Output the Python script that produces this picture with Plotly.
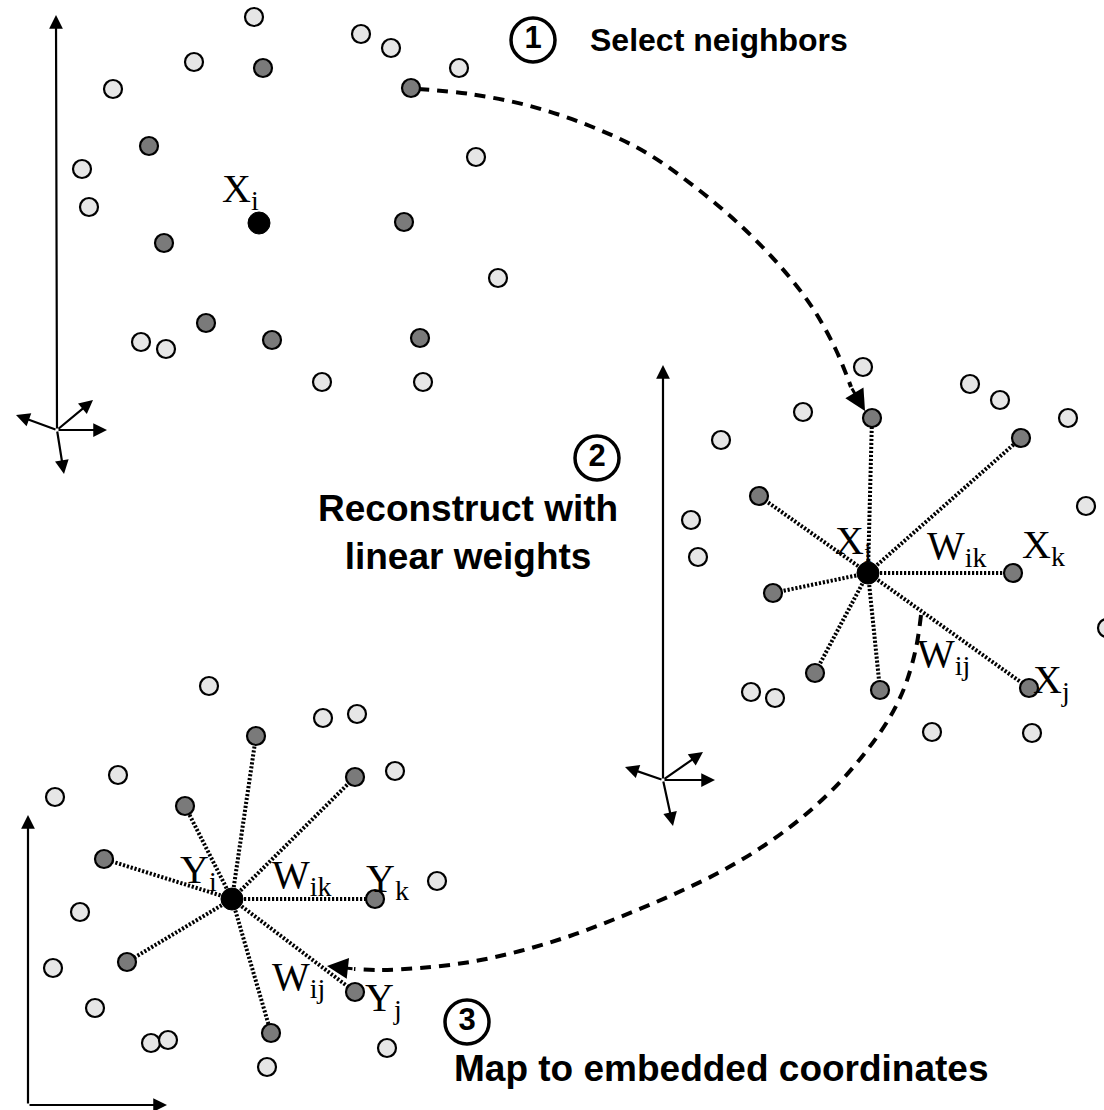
import plotly.graph_objects as go

# ---------------- data (pixel-space coordinates of the diagram) ----------------
# Panel 1: input space
p1_light_x = [254, 361, 391, 459, 194, 113, 82, 89, 476, 498, 141, 166, 322, 423]
p1_light_y = [17, 34, 48, 68, 62, 89, 169, 207, 157, 278, 342, 349, 382, 382]
p1_dark_x = [263, 411, 149, 164, 404, 206, 272, 420]
p1_dark_y = [68, 88, 146, 243, 222, 323, 340, 338]
p1_center = [259, 223]

# Panel 2: reconstruction
p2_light_x = [863, 970, 1000, 1068, 803, 721, 1086, 691, 698, 1107, 751, 775, 932, 1032]
p2_light_y = [367, 384, 400, 418, 412, 440, 506, 520, 557, 628, 692, 698, 732, 733]
p2_dark_x = [872, 1021, 759, 773, 1013, 815, 880, 1029]
p2_dark_y = [418, 438, 496, 593, 573, 673, 690, 688]
p2_center = [868, 573]

# Panel 3: embedding
p3_light_x = [209, 323, 357, 118, 55, 395, 437, 80, 53, 95, 151, 168, 267, 387]
p3_light_y = [686, 718, 714, 775, 797, 771, 881, 912, 968, 1008, 1043, 1040, 1067, 1048]
p3_dark_x = [256, 355, 185, 104, 375, 127, 355, 271]
p3_dark_y = [736, 777, 806, 859, 899, 962, 992, 1033]
p3_center = [232, 899]

# coordinate-frame arrows (origin, tips)
ax1_origin = [57, 430]
ax1_tips = [[56, 15], [16, 415], [93, 400], [107, 430], [64, 474]]
ax2_origin = [663, 780]
ax2_tips = [[663, 365], [625, 767], [703, 752], [715, 780], [673, 826]]
ax3_origin = [28, 1105]
ax3_tips = [[28, 815], [167, 1105]]

# dashed transition curves (waypoints) and arrow tips
curve1_x = [418, 470, 530, 590, 645, 695, 740, 780, 812, 836, 851]
curve1_y = [89, 94, 106, 126, 152, 187, 225, 266, 307, 350, 387]
curve1_tip = [865, 411]
curve2_x = [921, 916, 905, 890, 868, 840, 805, 765, 720, 670, 620, 570, 520, 470, 420, 380, 354]
curve2_y = [615, 648, 686, 717, 749, 782, 815, 845, 872, 896, 917, 936, 951, 962, 968, 970, 969]
curve2_tip = [327, 966]

# math labels: (text, left x, cap-top y)
math_labels = [
    ("X<sub>i</sub>", 222, 176),
    ("X<sub>i</sub>", 835, 528),
    ("W<sub>ik</sub>", 927, 533),
    ("X<sub>k</sub>", 1022, 532),
    ("W<sub>ij</sub>", 917, 641),
    ("X<sub>j</sub>", 1033, 667),
    ("Y<sub>i</sub>", 180, 857),
    ("W<sub>ik</sub>", 272, 862),
    ("Y<sub>k</sub>", 366, 866),
    ("W<sub>ij</sub>", 272, 964),
    ("Y<sub>j</sub>", 365, 985),
]

# step captions
step_numbers = ["1", "2", "3"]
step_num_x = [533, 597, 467]
step_num_y = [40, 458, 1022]
step_texts = ["Select neighbors", "Reconstruct with<br>linear weights", "Map to embedded coordinates"]
step_text_x = [588, 468, 452]
step_text_y = [40, 532, 1068]
step_text_anchor = ["left", "center", "left"]
step_text_size = [32, 37, 37]

LIGHT = "#e6e6e6"
DARK = "#7a7a7a"

fig = go.Figure()

# star (weight) lines
for cx, cy, dx, dy in [(p2_center[0], p2_center[1], p2_dark_x, p2_dark_y),
                       (p3_center[0], p3_center[1], p3_dark_x, p3_dark_y)]:
    xs, ys = [], []
    for x, y in zip(dx, dy):
        xs += [cx, x, None]
        ys += [cy, y, None]
    fig.add_trace(go.Scatter(x=xs, y=ys, mode="lines",
                             line=dict(color="black", width=4, dash="2.2px,1.8px"),
                             hoverinfo="skip", showlegend=False))

# frame axes (lines drawn by arrow annotations)
annotations = []
for origin, tips in [(ax1_origin, ax1_tips), (ax2_origin, ax2_tips), (ax3_origin, ax3_tips)]:
    for t in tips:
        annotations.append(dict(x=t[0], y=t[1], ax=origin[0], ay=origin[1],
                                xref="x", yref="y", axref="x", ayref="y",
                                text="", showarrow=True, arrowhead=2, arrowsize=1.25,
                                arrowwidth=2.2, arrowcolor="black", standoff=0, startstandoff=0))

# dashed curves
for cxs, cys, tip in [(curve1_x, curve1_y, curve1_tip), (curve2_x, curve2_y, curve2_tip)]:
    fig.add_trace(go.Scatter(x=cxs, y=cys, mode="lines",
                             line=dict(color="black", width=4, dash="11px,8px", shape="spline", smoothing=1.0),
                             hoverinfo="skip", showlegend=False))
    annotations.append(dict(x=tip[0], y=tip[1], ax=cxs[-1], ay=cys[-1],
                            xref="x", yref="y", axref="x", ayref="y",
                            text="", showarrow=True, arrowhead=2, arrowsize=1.4,
                            arrowwidth=3, arrowcolor="black", standoff=0))

# points
for lx, ly, dx, dy, c in [(p1_light_x, p1_light_y, p1_dark_x, p1_dark_y, p1_center),
                          (p2_light_x, p2_light_y, p2_dark_x, p2_dark_y, p2_center),
                          (p3_light_x, p3_light_y, p3_dark_x, p3_dark_y, p3_center)]:
    fig.add_trace(go.Scatter(x=lx, y=ly, mode="markers",
                             marker=dict(size=18, color=LIGHT, line=dict(color="black", width=2.2)),
                             hoverinfo="skip", showlegend=False))
    fig.add_trace(go.Scatter(x=dx, y=dy, mode="markers",
                             marker=dict(size=18, color=DARK, line=dict(color="black", width=2.2)),
                             hoverinfo="skip", showlegend=False))
    fig.add_trace(go.Scatter(x=[c[0]], y=[c[1]], mode="markers",
                             marker=dict(size=22, color="black", line=dict(color="black", width=1)),
                             hoverinfo="skip", showlegend=False))

# numbered circles
fig.add_trace(go.Scatter(x=step_num_x, y=step_num_y, mode="markers+text",
                         text=["<b>" + s + "</b>" for s in step_numbers], textposition="middle center",
                         textfont=dict(family="Liberation Sans", size=31, color="black"),
                         marker=dict(size=44, color="rgba(0,0,0,0)", line=dict(color="black", width=3.5)),
                         hoverinfo="skip", showlegend=False))

for t, x, y, a, s in zip(step_texts, step_text_x, step_text_y, step_text_anchor, step_text_size):
    annotations.append(dict(x=x, y=y, xref="x", yref="y", text="<b>" + t + "</b>",
                            showarrow=False, xanchor=a, yanchor="middle", align="center",
                            font=dict(family="Liberation Sans", size=s, color="black")))

for t, x, y in math_labels:
    annotations.append(dict(x=x - 1, y=y - 11, xref="x", yref="y", text=t, showarrow=False,
                            xanchor="left", yanchor="top", borderpad=0,
                            font=dict(family="Liberation Serif", size=40, color="black")))

fig.update_layout(
    width=1104, height=1110,
    margin=dict(l=0, r=0, t=0, b=0),
    paper_bgcolor="white", plot_bgcolor="white",
    xaxis=dict(range=[0, 1104], visible=False, fixedrange=True),
    yaxis=dict(range=[1110, 0], visible=False, fixedrange=True),
    annotations=annotations,
    showlegend=False,
)

fig.write_html("out.html", config={"displayModeBar": False},
               post_script="document.body.style.margin='0';")
